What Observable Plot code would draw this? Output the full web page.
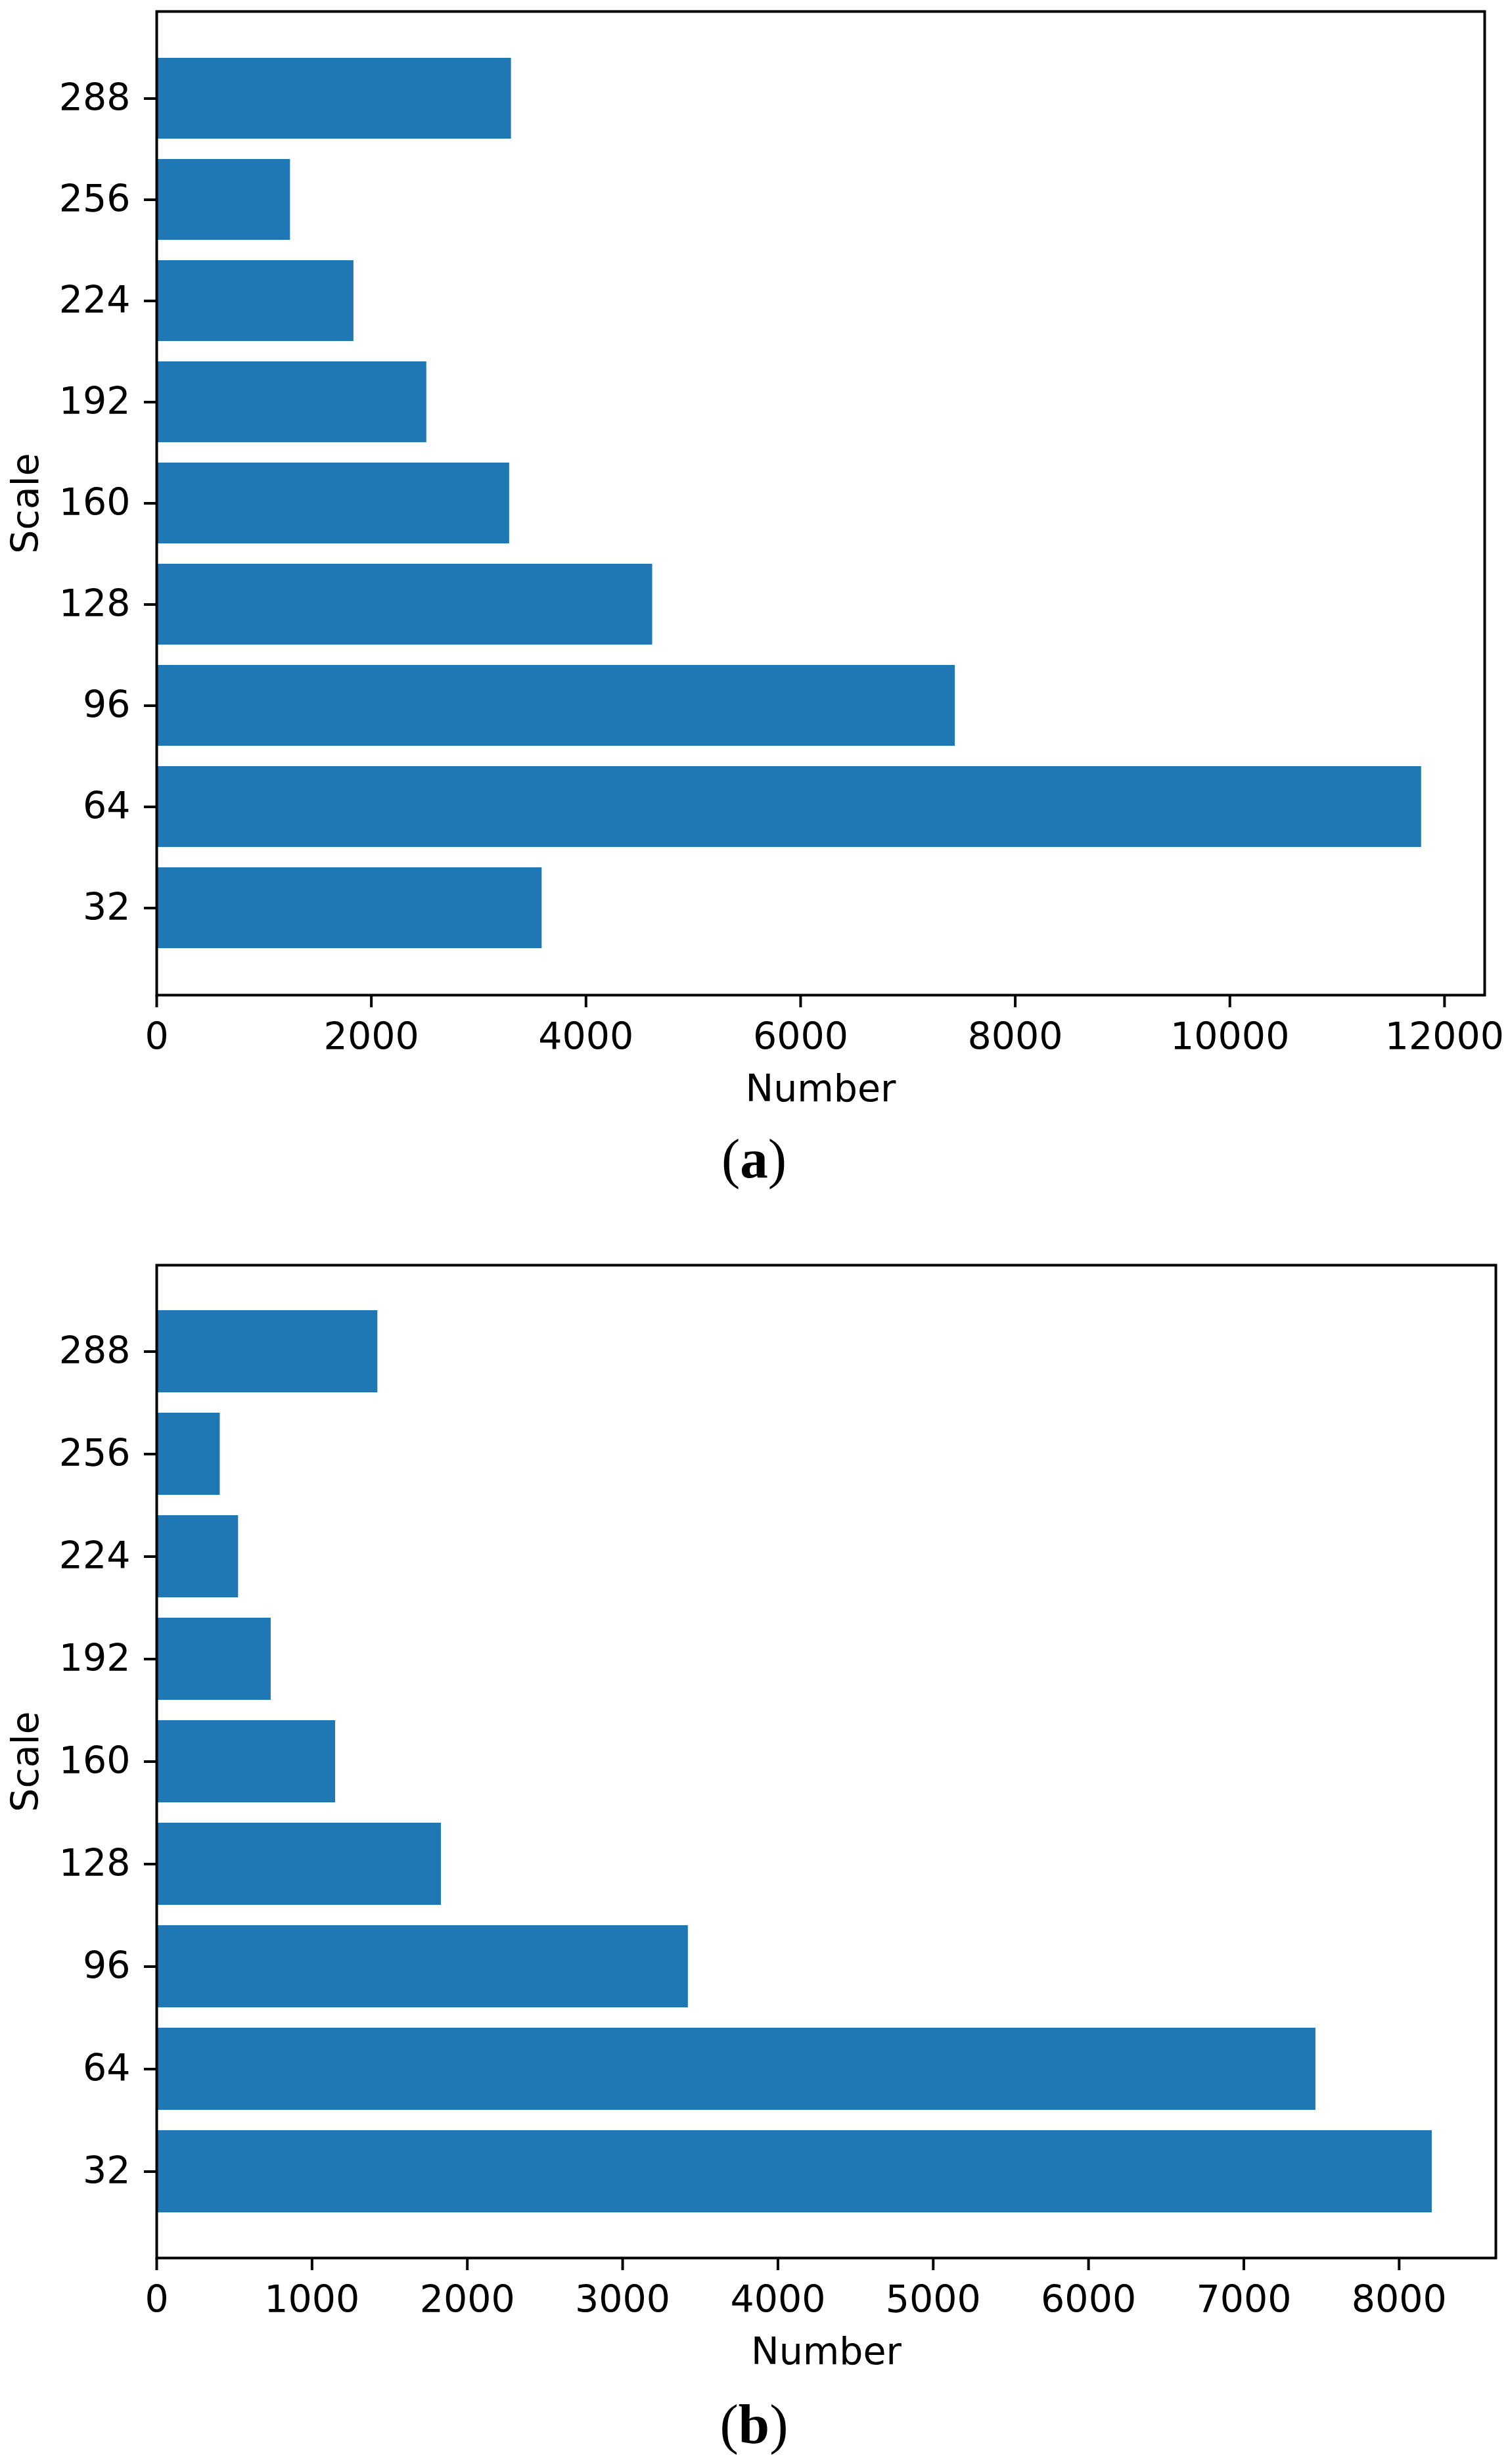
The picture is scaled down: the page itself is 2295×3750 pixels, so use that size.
<!DOCTYPE html>
<html>
<head>
<meta charset="utf-8">
<script src="https://cdn.jsdelivr.net/npm/d3@7"></script>
<script src="https://cdn.jsdelivr.net/npm/@observablehq/plot@0.6"></script>
<style>
  html, body { margin: 0; padding: 0; background: #ffffff; }
  #page { position: relative; width: 2295px; height: 3750px; background: #ffffff; }
  .panel { position: absolute; left: 0; }
  .caption { position: absolute; left: 0; width: 2295px; text-align: center;
             font-family: "Liberation Serif", "DejaVu Serif", serif; font-size: 85px; line-height: 1; color: #000; }
  .caption b { font-weight: bold; }
</style>
</head>
<body>
<div id="page">
  <div id="panelA" class="panel" style="top:0px"></div>
  <div class="caption" style="top:1721px">(<b>a</b>)</div>
  <div id="panelB" class="panel" style="top:1850px"></div>
  <div class="caption" style="top:3647px">(<b>b</b>)</div>
</div>
<script>
// ---- data ----
const scales = [32, 64, 96, 128, 160, 192, 224, 256, 288];
const countsA = [3590, 11785, 7440, 4620, 3287, 2515, 1836, 1245, 3304];
const countsB = [8212, 7463, 3422, 1832, 1151, 736, 526, 408, 1423];
const xTicksA = [0, 2000, 4000, 6000, 8000, 10000, 12000];
const xTicksB = [0, 1000, 2000, 3000, 4000, 5000, 6000, 7000, 8000];
const xLabel = "Number";
const yLabel = "Scale";

const barColor = "#1f77b4";
const FONT = "DejaVu Sans";
const FS = 57;

function panel(counts, xTicks, opts) {
  const data = scales.map((s, i) => ({scale: s, value: counts[i]}));
  const xmax = d3.max(counts) * 1.05;
  return Plot.plot({
    width: 2295,
    height: opts.height,
    marginLeft: 238,
    marginRight: opts.marginRight,
    marginTop: opts.marginTop,
    marginBottom: opts.marginBottom,
    style: {fontFamily: FONT, fontSize: FS + "px", color: "#000", background: "#fff", overflow: "visible"},
    x: {domain: [0, xmax]},
    y: {type: "band", domain: scales.slice().reverse(), paddingInner: 0.2, paddingOuter: 0.44},
    marks: [
      Plot.barX(data, {x: "value", y: "scale", fill: barColor}),
      Plot.frame({stroke: "#000", strokeWidth: 4}),
      Plot.axisX({ticks: xTicks, tickFormat: "d", tickSize: 19, tickPadding: 23, strokeWidth: 4,
                  fontSize: FS, label: xLabel, labelAnchor: "center", labelArrow: "none", labelOffset: 161}),
      Plot.axisY({ticks: scales, tickFormat: d => String(d), tickSize: 19, tickPadding: 21, strokeWidth: 4,
                  fontSize: FS, label: yLabel, labelAnchor: "center", labelArrow: "none", labelOffset: 221})
    ]
  });
}

document.getElementById("panelA").appendChild(
  panel(countsA, xTicksA, {height: 1700, marginTop: 17, marginBottom: 186, marginRight: 36})
);
document.getElementById("panelB").appendChild(
  panel(countsB, xTicksB, {height: 1760, marginTop: 75, marginBottom: 174, marginRight: 19})
);
</script>
</body>
</html>
